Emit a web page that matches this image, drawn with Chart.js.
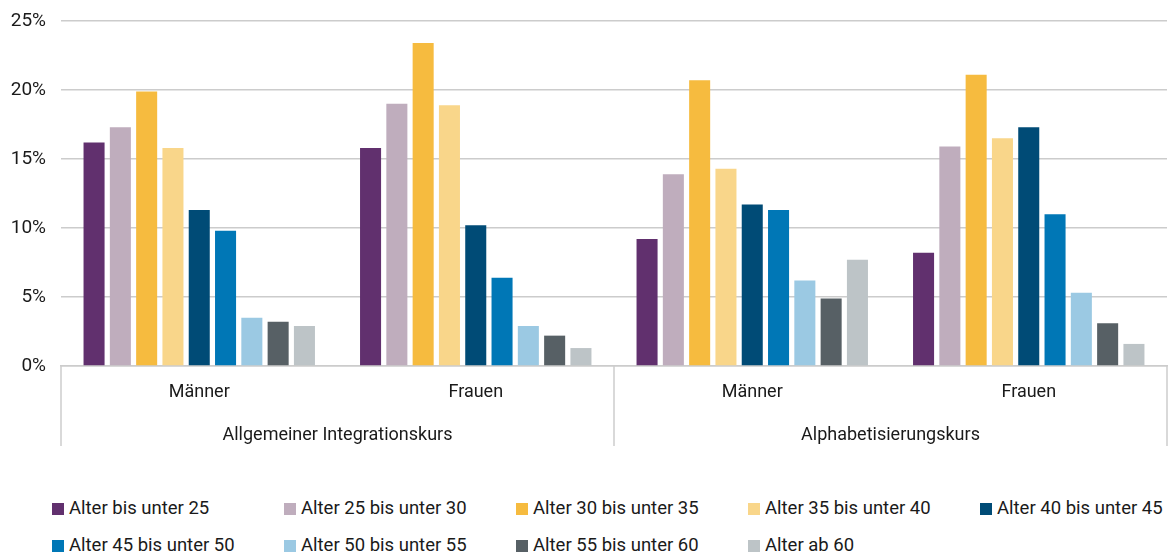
<!DOCTYPE html>
<html lang="de">
<head>
<meta charset="utf-8">
<script src="https://cdn.jsdelivr.net/npm/chart.js@4"></script>
<style>
  html, body { margin: 0; padding: 0; background: #fff; }
  body { width: 1174px; height: 558px; position: relative; font-family: Roboto, sans-serif; color: #1a1a1a; }
  #wrap { position: absolute; left: 0; top: 0; width: 1174px; height: 460px; }
  #legend { position: absolute; left: 52px; top: 498px; width: 1122px; display: grid; grid-template-columns: repeat(5, 232px); row-gap: 16px; }
  #legend .item { display: flex; align-items: center; font-size: 18.5px; line-height: 21px; white-space: nowrap; }
  #legend .box { width: 12px; height: 12px; margin-right: 5px; flex: none; }
</style>
</head>
<body>
<div id="wrap"><canvas id="chart" width="1174" height="460"></canvas></div>
<div id="legend"></div>
<script>
const categories = ['Männer', 'Frauen', 'Männer', 'Frauen'];
const groups = ['Allgemeiner Integrationskurs', 'Alphabetisierungskurs'];
const yTicks = [0, 5, 10, 15, 20, 25];

const seriesNames = [
    'Alter bis unter 25',
    'Alter 25 bis unter 30',
    'Alter 30 bis unter 35',
    'Alter 35 bis unter 40',
    'Alter 40 bis unter 45',
    'Alter 45 bis unter 50',
    'Alter 50 bis unter 55',
    'Alter 55 bis unter 60',
    'Alter ab 60'
];
const seriesColors = ['#61306e', '#bfadbd', '#f6bb3f', '#f9d68a', '#004b76', '#0077b6', '#9bc9e3', '#576065', '#bdc4c7'];

// values in %, one array per age band: [Allg. Männer, Allg. Frauen, Alpha Männer, Alpha Frauen]
const alterBis25 = [16.2, 15.8, 9.2, 8.2];
const alter25bis30 = [17.3, 19.0, 13.9, 15.9];
const alter30bis35 = [19.9, 23.4, 20.7, 21.1];
const alter35bis40 = [15.8, 18.9, 14.3, 16.5];
const alter40bis45 = [11.3, 10.2, 11.7, 17.3];
const alter45bis50 = [9.8, 6.4, 11.3, 11.0];
const alter50bis55 = [3.5, 2.9, 6.2, 5.3];
const alter55bis60 = [3.2, 2.2, 4.9, 3.1];
const alterAb60 = [2.9, 1.3, 7.7, 1.6];

const seriesValues = [alterBis25, alter25bis30, alter30bis35, alter35bis40, alter40bis45, alter45bis50, alter50bis55, alter55bis60, alterAb60];

const FONT = { family: 'Roboto, sans-serif', size: 18 };
const TEXT = '#1a1a1a';
const LINE = '#cccccc';

// lines between the two course groups below the x axis
const groupLines = {
    id: 'groupLines',
    afterDraw(chart) {
        const { ctx, chartArea } = chart;
        const x2 = chart.scales.x2;
        const mid = (chartArea.left + chartArea.right) / 2;
        ctx.save();
        ctx.strokeStyle = LINE;
        ctx.lineWidth = 1.5;
        [chartArea.left, mid, chartArea.right].forEach(x => {
            ctx.beginPath();
            ctx.moveTo(x, chartArea.bottom);
            ctx.lineTo(x, x2.bottom - 14);
            ctx.stroke();
        });
        ctx.restore();
    }
};

new Chart(document.getElementById('chart'), {
    type: 'bar',
    data: {
        labels: categories,
        datasets: seriesNames.map((name, i) => ({
            label: name,
            data: seriesValues[i],
            backgroundColor: seriesColors[i],
            categoryPercentage: 0.856,
            barPercentage: 0.8
        }))
    },
    options: {
        responsive: false,
        animation: false,
        layout: { padding: { top: 21, right: 7, bottom: 0, left: 0 } },
        plugins: {
            legend: { display: false },
            tooltip: { enabled: false }
        },
        scales: {
            y: {
                min: 0,
                max: 25,
                afterFit: s => { s.width = 61; s.paddingTop = 0; s.paddingBottom = 0; },
                afterBuildTicks: s => { s.ticks = yTicks.map(v => ({ value: v })); },
                ticks: { font: { family: FONT.family, size: 19 }, color: TEXT, padding: 15, callback: v => v + '%' },
                grid: { color: LINE, lineWidth: 1.5, drawTicks: false },
                border: { display: false }
            },
            x: {
                afterFit: s => { s.height = 46; },
                ticks: { font: FONT, color: TEXT, padding: 16 },
                grid: { display: false, drawTicks: false },
                border: { color: LINE, width: 1.5 }
            },
            x2: {
                type: 'category',
                labels: groups,
                position: 'bottom',
                afterFit: s => { s.height = 48; },
                ticks: { font: FONT, color: TEXT, padding: 13 },
                grid: { display: false, drawTicks: false },
                border: { display: false }
            }
        }
    },
    plugins: [groupLines]
});

document.getElementById('legend').innerHTML = seriesNames
    .map((n, i) => `<div class="item"><span class="box" style="background:${seriesColors[i]}"></span>${n}</div>`)
    .join('');
</script>
</body>
</html>
